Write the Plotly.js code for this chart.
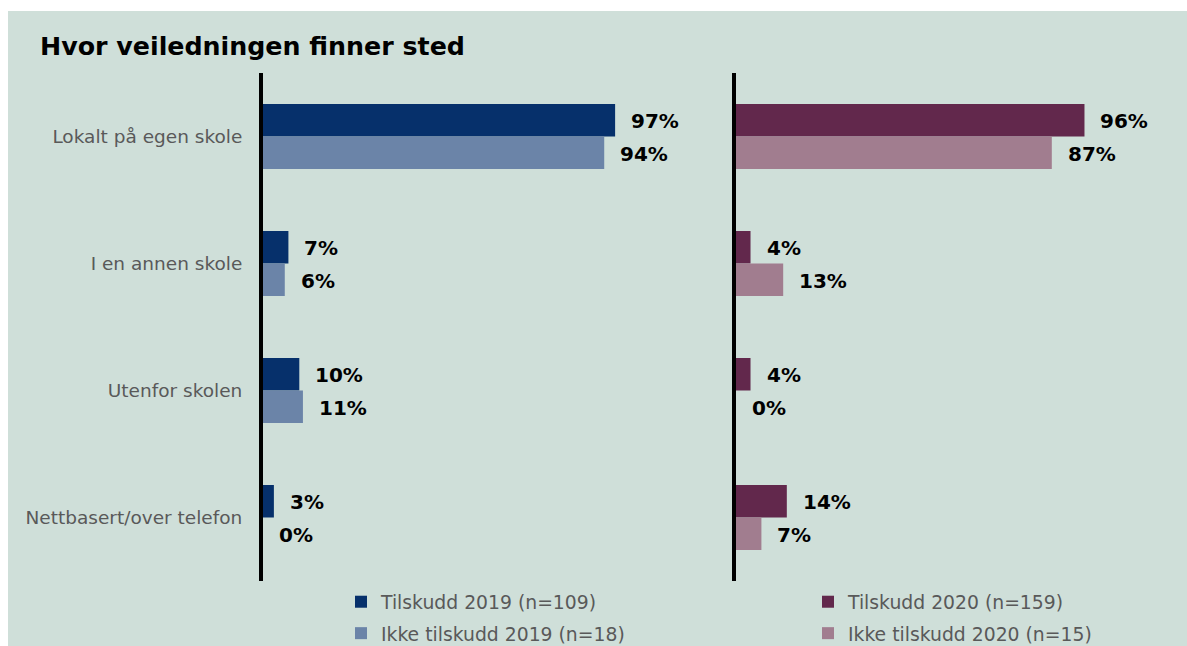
<!DOCTYPE html>
<html>
<head>
<meta charset="utf-8">
<script src="https://cdn.plot.ly/plotly-3.0.1.min.js"></script>
<style>
  html, body { margin: 0; padding: 0; background: #ffffff; overflow: hidden; }
  #chart { position: absolute; left: 8px; top: 11px; width: 1179px; height: 660px; }
</style>
</head>
<body>
<div id="chart"></div>
<script>
const categories = ["Lokalt på egen skole", "I en annen skole", "Utenfor skolen", "Nettbasert/over telefon"];
const tilskudd2019 = [97, 7, 10, 3];
const ikkeTilskudd2019 = [94, 6, 11, 0];
const tilskudd2020 = [96, 4, 4, 14];
const ikkeTilskudd2020 = [87, 13, 0, 7];
const seriesNames = ["Tilskudd 2019 (n=109)", "Ikke tilskudd 2019 (n=18)", "Tilskudd 2020 (n=159)", "Ikke tilskudd 2020 (n=15)"];
const chartTitle = "Hvor veiledningen finner sted";

const colors = ["#06306b", "#6b84a8", "#62284c", "#a17d8f"];
const bg = "#cfdfd9";
const W = 1179, H = 660;

function bar(vals, name, color, xa, ya, legend) {
  return {
    type: "bar", orientation: "h", x: vals, y: categories, name: name,
    xaxis: xa, yaxis: ya, legend: legend, legendgroup: name,
    marker: { color: color, line: { width: 0 } },
    hoverinfo: "x+name"
  };
}

const traces = [
  bar(tilskudd2019, seriesNames[0], colors[0], "x", "y", "legend"),
  bar(ikkeTilskudd2019, seriesNames[1], colors[1], "x", "y", "legend"),
  bar(tilskudd2020, seriesNames[2], colors[2], "x2", "y2", "legend2"),
  bar(ikkeTilskudd2020, seriesNames[3], colors[3], "x2", "y2", "legend2")
];

const labelFont = { family: "DejaVu Sans", size: 20, color: "#000000", weight: 700 };
const annotations = [];
function addLabels(vals, xref, yref, yshift) {
  vals.forEach((v, i) => {
    annotations.push({
      x: v, y: categories[i], xref: xref, yref: yref,
      text: v + "%", showarrow: false, xanchor: "left", yanchor: "middle",
      xshift: 14, yshift: yshift, font: labelFont
    });
  });
}
addLabels(tilskudd2019, "x", "y", 15.5);
addLabels(ikkeTilskudd2019, "x", "y", -17.5);
addLabels(tilskudd2020, "x2", "y2", 15.5);
addLabels(ikkeTilskudd2020, "x2", "y2", -17.5);

const yBase = {
  type: "category", autorange: "reversed", showgrid: false, zeroline: false,
  showline: true, linecolor: "#000000", linewidth: 4, ticks: "",
  domain: [1 - 570 / H, 1 - 62 / H], fixedrange: true
};
const xBase = {
  range: [0, 100], showgrid: false, zeroline: false, showline: false,
  showticklabels: false, ticks: "", fixedrange: true
};

const legendFont = { family: "DejaVu Sans", size: 18.8, color: "#595959" };

const layout = {
  width: W, height: H,
  paper_bgcolor: bg, plot_bgcolor: "rgba(0,0,0,0)",
  margin: { l: 0, r: 0, t: 0, b: 0 },
  barmode: "group", bargap: 0.488, bargroupgap: 0,
  title: {
    text: "<b>" + chartTitle + "</b>", x: 32 / W, xanchor: "left", xref: "paper",
    y: 1 - 35 / H, yanchor: "middle",
    font: { family: "DejaVu Sans", size: 25.3, color: "#000000" }
  },
  xaxis: Object.assign({}, xBase, { domain: [255 / W, 618 / W], anchor: "y" }),
  xaxis2: Object.assign({}, xBase, { domain: [728 / W, 1091 / W], anchor: "y2" }),
  yaxis: Object.assign({}, yBase, {
    anchor: "x", showticklabels: true, ticklabelstandoff: 13,
    tickfont: { family: "DejaVu Sans", size: 18.5, color: "#595959" }
  }),
  yaxis2: Object.assign({}, yBase, { anchor: "x2", showticklabels: false }),
  showlegend: true,
  legend: {
    x: 333 / W, xanchor: "left", y: 1 - 572 / H, yanchor: "top",
    orientation: "v", bgcolor: "rgba(0,0,0,0)", font: legendFont,
    tracegroupgap: 4, traceorder: "grouped"
  },
  legend2: {
    x: 800 / W, xanchor: "left", y: 1 - 572 / H, yanchor: "top",
    orientation: "v", bgcolor: "rgba(0,0,0,0)", font: legendFont,
    tracegroupgap: 4, traceorder: "grouped"
  },
  annotations: annotations
};

Plotly.newPlot("chart", traces, layout, { displayModeBar: false, staticPlot: true });
</script>
</body>
</html>
